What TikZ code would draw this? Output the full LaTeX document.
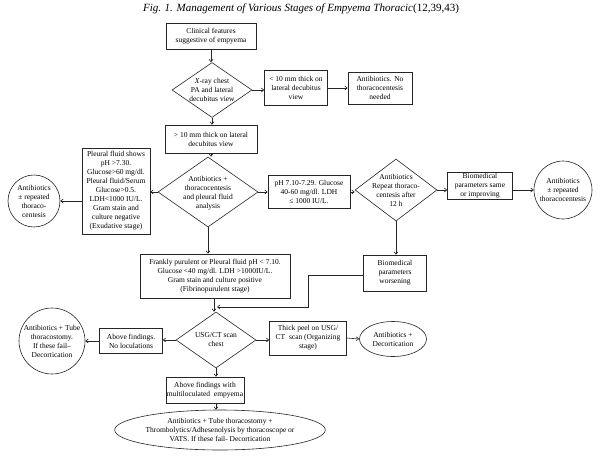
\documentclass[tikz,border=0pt]{standalone}
\usepackage{fontspec}
\setmainfont{Liberation Serif}
\usetikzlibrary{shapes.geometric,arrows.meta}
\newcommand{\fs}{\fontsize{7.5}{9}\selectfont}
\tikzset{
  box/.style={draw=black!85, line width=0.6pt, rectangle, align=center, font=\fs, inner sep=1pt},
  dia/.style={draw=black!85, line width=0.6pt, diamond, inner sep=0pt},
  dtext/.style={align=center, font=\fs, inner sep=0pt},
  circ/.style={draw=black!85, line width=0.6pt, circle, align=center, font=\fs, inner sep=0pt},
  ell/.style={draw=black!85, line width=0.6pt, ellipse, align=center, font=\fs, inner sep=0pt},
  arr/.style={-{Straight Barb[length=2.5pt,width=4pt]}, line width=0.6pt, draw=black!85},
}
\begin{document}
\begin{tikzpicture}[x=1pt,y=-1pt]
\useasboundingbox (0,0) rectangle (600,461);
\fill[white] (0,0) rectangle (600,461);
\node (title) at (301,9) {\fontsize{11}{12}\selectfont\itshape Fig. 1. Management of Various Stages of Empyema Thoracic\upshape(12,39,43)};

\node[box, minimum width=90, minimum height=26] (clin) at (211,36) {Clinical features\\suggestive of empyema};
\node[dia, minimum width=80, minimum height=55] (xray) at (212,90) {};
\node[dtext] (xrayt) at (212,90) {\textit{X}-ray chest\\PA and lateral\\decubitus view};
\node[box, minimum width=63, minimum height=35] (lt10) at (296,88) {< 10 mm thick on\\lateral decubitus\\view};
\node[box, minimum width=64, minimum height=32] (noth) at (380,88) {Antibiotics. No\\thoracocentesis\\needed};
\node[box, minimum width=92, minimum height=28] (gt10) at (211,139) {> 10 mm thick on lateral\\decubitus view};

\node[dia, minimum width=100, minimum height=70] (anti) at (208,192) {};
\node[dtext] (antit) at (208,193) {Antibiotics +\\thoracocentesis\\and pleural fluid\\analysis};
\node[box, minimum width=82, minimum height=33] (ph) at (309,192) {pH 7.10-7.29. Glucose\\40-60 mg/dl. LDH\\≤ 1000 IU/L.};
\node[dia, minimum width=82, minimum height=62] (rep) at (396,190) {};
\node[dtext] (rept) at (396,190) {Antibiotics\\Repeat thoraco-\\centesis after\\12 h};
\node[box, minimum width=65, minimum height=26] (same) at (480,186) {Biomedical\\parameters same\\or improving};
\node[circ, minimum size=58] (rcirc) at (563,190) {Antibiotics\\± repeated\\thoracocentesis};

\node[box, minimum width=68, minimum height=86, inner sep=0pt] (pleu) at (116,191) {Pleural fluid shows\\pH >7.30.\\Glucose>60 mg/dl.\\Pleural fluid/Serum\\Glucose>0.5.\\LDH<1000 IU/L.\\Gram stain and\\culture negative\\(Exudative stage)};
\node[circ, minimum size=52] (lcirc) at (34,201) {Antibiotics\\± repeated\\thoraco-\\centesis};

\node[box, minimum width=150, minimum height=44] (frank) at (215,276) {Frankly purulent or Pleural fluid pH < 7.10.\\Glucose <40 mg/dl. LDH >1000IU/L.\\Gram stain and culture positive\\(Fibrinopurulent stage)};
\node[box, minimum width=63, minimum height=36] (worse) at (395,273) {Biomedical\\parameters\\worsening};
\coordinate (bendA) at (308,275);
\coordinate (bendB) at (308,307);

\node[dia, minimum width=80, minimum height=56] (usg) at (216,340) {};
\node[dtext] (usgt) at (216,340) {USG/CT scan\\chest};
\node[box, minimum width=77, minimum height=34] (thick) at (308,338) {Thick peel on USG/\\CT\ \ scan (Organizing\\stage)};
\node[ell, minimum width=67, minimum height=35] (decort) at (393,339) {Antibiotics +\\Decortication};
\node[box, minimum width=63, minimum height=25] (nolo) at (131,341) {Above findings.\\No loculations};
\node[circ, minimum size=66] (lcirc2) at (52,341) {Antibiotics + Tube\\thoracostomy.\\If these fail–\\Decortication};

\node[box, minimum width=70, minimum height=26] (multi) at (205,390) {Above findings with\\multiloculated\ \ empyema};
\node[ell, minimum width=170, minimum height=40] (final) at (220,430) {Antibiotics + Tube thoracostomy +\\Thrombolytics/Adhesenolysis by thoracoscope or\\VATS. If these fail- Decortication};

\draw[arr] (clin.south) -- (clin.south |- xray.north);
\draw[arr] (xray.east) -- (lt10.west |- xray.east);
\draw[arr] (lt10.east) -- (noth.west);
\draw[arr] (xray.south) -- (xray.south |- gt10.north);
\draw[arr] (gt10.south) -- (gt10.south |- anti.north);
\draw[arr] (anti.east) -- (ph.west);
\draw[arr] (ph.east) -- (rep.west |- ph.east);
\draw[arr] (rep.east) -- (same.west |- rep.east);
\draw[arr] (same.east |- rep.east) -- (rcirc.west);
\draw[arr] (anti.west) -- (pleu.east |- anti.west);
\draw[arr] (pleu.west |- lcirc.east) -- (lcirc.east);
\draw[arr] (anti.south) -- (anti.south |- frank.north);
\draw[arr] (rep.south) -- (rep.south |- worse.north);
\draw[arr] (worse.west |- bendA) -- (bendA) -- (bendB) -- ([xshift=2pt]frank.south |- bendB);
\draw[arr] ([xshift=-1pt]frank.south) -- ([xshift=-1pt]frank.south |- usg.north);
\draw[arr] (usg.east) -- (thick.west |- usg.east);
\draw[arr] (thick.east) -- (decort.west);
\draw[arr] (usg.west) -- (nolo.east |- usg.west);
\draw[arr] (nolo.west) -- (lcirc2.east);
\draw[arr] (usg.south) -- (usg.south |- multi.north);
\draw[arr] (multi.south -| usg.south) -- (usg.south |- final.north);
\end{tikzpicture}
\end{document}
